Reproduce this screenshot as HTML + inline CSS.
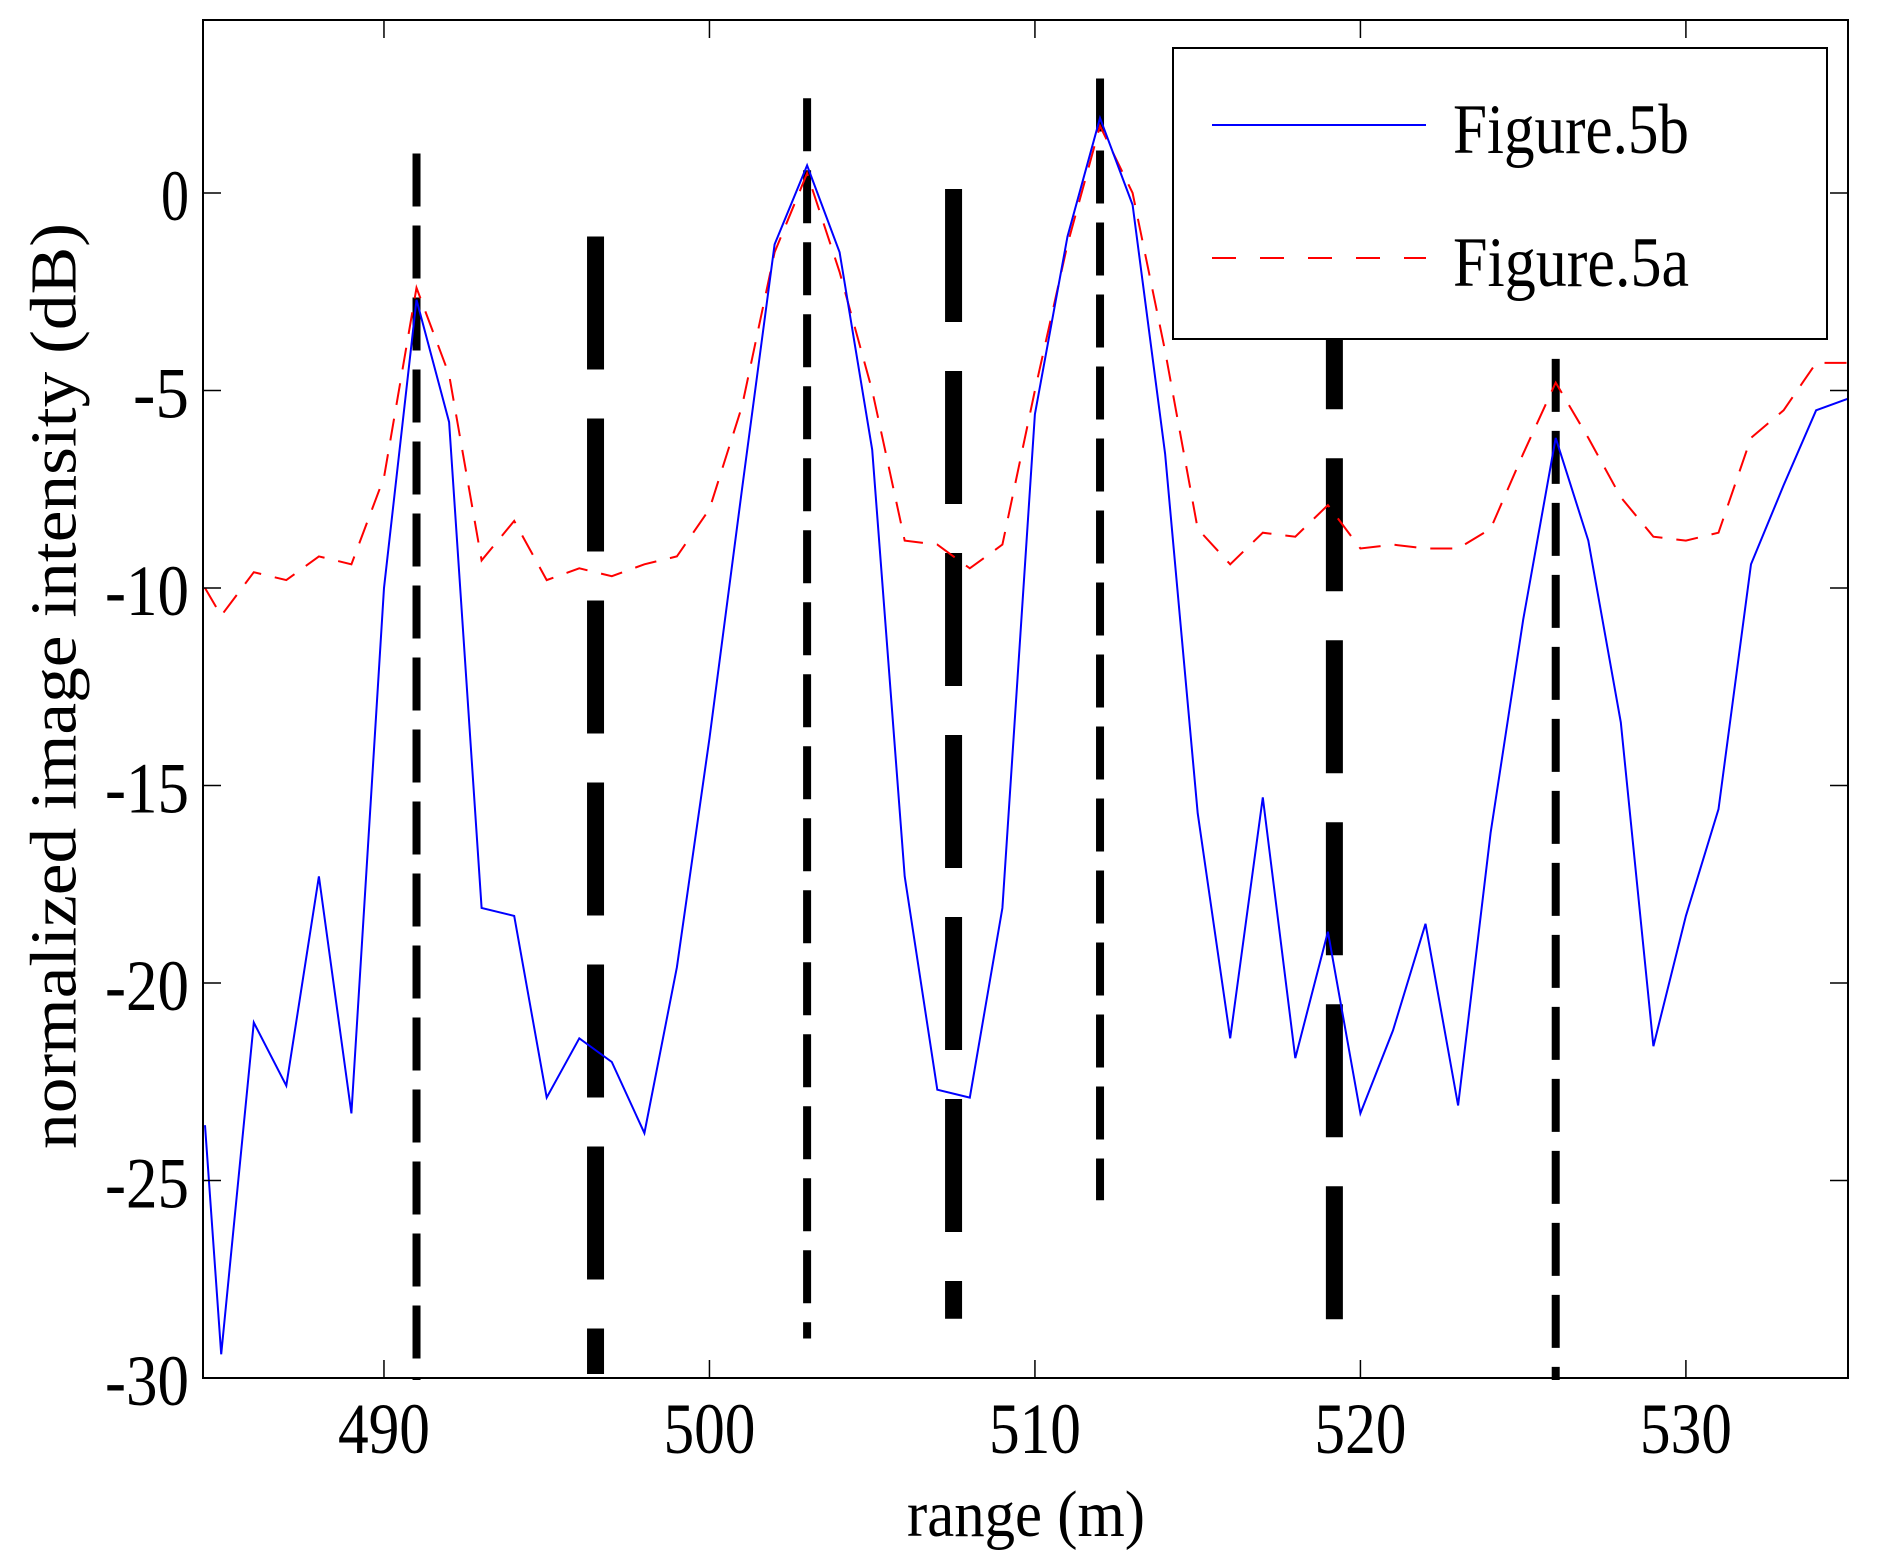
<!DOCTYPE html>
<html><head><meta charset="utf-8"><style>
html,body{margin:0;padding:0;background:#fff;}
svg{display:block;font-family:"Liberation Serif",serif;}
</style></head><body>
<svg id="chart" width="1877" height="1564" viewBox="0 0 1877 1564" xmlns="http://www.w3.org/2000/svg">
<rect width="1877" height="1564" fill="#fff"/>
<g id="marks"></g>
<g id="axes"></g>
<text x="54" y="686" transform="rotate(-90 54 686)" text-anchor="middle" dominant-baseline="central" font-size="66" textLength="926" lengthAdjust="spacingAndGlyphs">normalized image intensity (dB)</text>
<text x="1026" y="1536" text-anchor="middle" font-size="66" textLength="238" lengthAdjust="spacingAndGlyphs">range (m)</text>
<g>
<rect x="1173" y="48" width="654" height="291" fill="#fff" stroke="#000" stroke-width="2"/>
<line x1="1212" y1="125" x2="1426" y2="125" stroke="#0000ff" stroke-width="2"/>
<text x="1453" y="153" font-size="71" textLength="236" lengthAdjust="spacingAndGlyphs">Figure.5b</text>
<line x1="1212" y1="258" x2="1426" y2="258" stroke="#ff0000" stroke-width="2" stroke-dasharray="24,24"/>
<text x="1453" y="286" font-size="71" textLength="236" lengthAdjust="spacingAndGlyphs">Figure.5a</text>
</g>
<script>
const rangeX = [484.5,485,486,487,488,489,490,491,492,493,494,495,496,497,498,499,500,501,502,503,504,505,506,507,508,509,510,511,512,513,514,515,516,517,518,519,520,521,522,523,524,525,526,527,528,529,530,531,532,533,534,535];
const fig5b = [-23.6,-29.4,-21,-22.6,-17.3,-23.3,-10,-2.7,-5.8,-18.1,-18.3,-22.9,-21.4,-22,-23.8,-19.6,-13.8,-7.5,-1.3,0.7,-1.5,-6.5,-17.3,-22.7,-22.9,-18.1,-5.6,-1.1,1.9,-0.3,-6.6,-15.7,-21.4,-15.3,-21.9,-18.7,-23.3,-21.2,-18.5,-23.1,-16.2,-10.8,-6.2,-8.8,-13.4,-21.6,-18.3,-15.6,-9.4,-7.4,-5.5,-5.2];
const fig5a = [-10.0,-10.7,-9.6,-9.8,-9.2,-9.4,-7.2,-2.4,-4.6,-9.3,-8.3,-9.8,-9.5,-9.7,-9.4,-9.2,-8.0,-5.4,-1.5,0.5,-2.0,-5.0,-8.8,-8.9,-9.5,-8.9,-5.0,-1.3,1.7,0.0,-4.0,-8.5,-9.4,-8.6,-8.7,-7.9,-9.0,-8.9,-9.0,-9.0,-8.5,-6.6,-4.8,-6.2,-7.7,-8.7,-8.8,-8.6,-6.2,-5.5,-4.3,-4.3];
const markerX = [491, 496.5, 503, 507.5, 512, 519.2, 526];
const markerTop = [1.0, -1.1, 2.4, 0.1, 2.9, 2.5, -4.2];
const markerBottom = [-30.05, -29.9, -29.0, -28.5, -25.5, -29.5, -30.05];
const markerHeavy = [0, 1, 0, 1, 0, 1, 0];
const xTicks = [490, 500, 510, 520, 530];
const yTicks = [0, -5, -10, -15, -20, -25, -30];

const L=203, R=1848, T=20, B=1378, X0=484.44, X1=534.98, Y0=-30, Y1=4.38;
const sx = v => L + (v - X0) / (X1 - X0) * (R - L);
const sy = v => B - (v - Y0) / (Y1 - Y0) * (B - T);
const NS = "http://www.w3.org/2000/svg";
const marks = document.getElementById('marks');
const axes = document.getElementById('axes');
function mk(tag, attrs, parent){ const e=document.createElementNS(NS,tag); for(const k in attrs) e.setAttribute(k,attrs[k]); parent.appendChild(e); return e; }

const clip = mk('clipPath',{id:'clipArea'},marks);
mk('rect',{x:L,y:T,width:R-L,height:B-T},clip);

markerX.forEach((xv,i)=>{
  const heavy = markerHeavy[i]===1;
  const ln = mk('line',{x1:sx(xv),x2:sx(xv),y1:sy(markerTop[i]),y2:Math.min(sy(markerBottom[i]),B+6),stroke:'#000','stroke-width':heavy?17:8,'stroke-dasharray':heavy?'133,49':'53,19'},marks);
  
  
});

const pts = arr => arr.map((v,i)=>sx(rangeX[i]).toFixed(1)+','+sy(v).toFixed(1)).join(' ');
const red = mk('polyline',{points:pts(fig5a),fill:'none',stroke:'#ff0000','stroke-width':2,'stroke-dasharray':'22,14','clip-path':'url(#clipArea)'},marks);


const blue = mk('polyline',{points:pts(fig5b),fill:'none',stroke:'#0000ff','stroke-width':2,'clip-path':'url(#clipArea)'},marks);



const frame = mk('rect',{x:L,y:T,width:R-L,height:B-T,fill:'none',stroke:'#000','stroke-width':2},axes);



xTicks.forEach(v=>{
  const x=sx(v);
  mk('line',{x1:x,x2:x,y1:B,y2:B-18,stroke:'#000','stroke-width':1.5},axes);
  mk('line',{x1:x,x2:x,y1:T,y2:T+18,stroke:'#000','stroke-width':1.5},axes);
  const t = mk('text',{x:x,y:1453,'text-anchor':'middle','font-size':72,textLength:92,lengthAdjust:'spacingAndGlyphs'},axes);
  t.textContent = String(v);
  
  
});
yTicks.forEach(v=>{
  const y=sy(v);
  mk('line',{x1:L,x2:L+18,y1:y,y2:y,stroke:'#000','stroke-width':1.5},axes);
  mk('line',{x1:R,x2:R-18,y1:y,y2:y,stroke:'#000','stroke-width':1.5},axes);
  const s = String(v);
  const t = mk('text',{x:189,y:y+27,'text-anchor':'end','font-size':72,textLength:(s.length*28),lengthAdjust:'spacingAndGlyphs'},axes);
  t.textContent = s;
  
  
});
</script>
</svg>
</body></html>
